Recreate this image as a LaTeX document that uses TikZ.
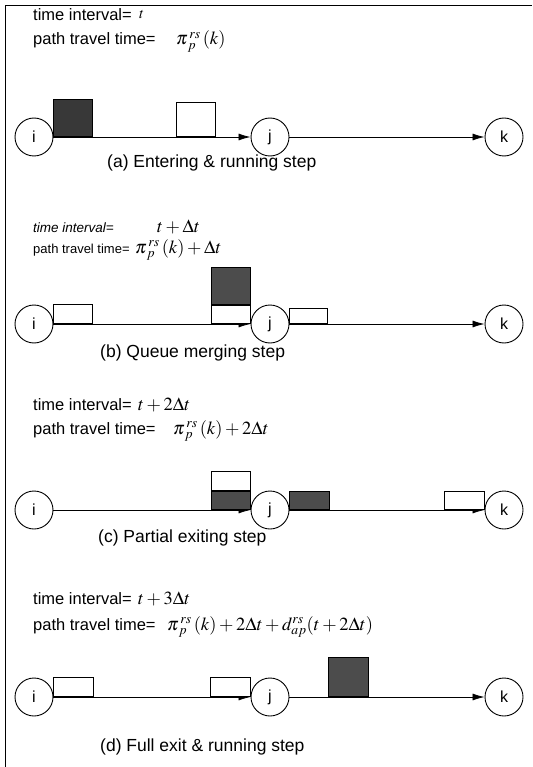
\documentclass[tikz,border=0pt]{standalone}
\usepackage{mathptmx}
\usepackage{fontspec}
\setmainfont{Liberation Sans}
\usetikzlibrary{arrows.meta}
\tikzset{
  vtx/.style={circle, draw, line width=0.9pt, minimum size=38pt, inner sep=0pt,
              font=\fontsize{16}{16}\selectfont},
  link/.style={line width=0.8pt, -{Latex[length=12pt,width=7pt]}},
  wbox/.style={draw, fill=white, line width=0.8pt, inner sep=0pt},
  dbox/.style={draw, fill=black!70, line width=0.8pt, inner sep=0pt},
  lbl/.style={anchor=base west, inner sep=0pt, font=\fontsize{16.5}{18}\selectfont},
  slbl/.style={anchor=base west, inner sep=0pt, font=\fontsize{13}{15}\selectfont},
  captext/.style={anchor=base west, inner sep=0pt, font=\fontsize{17.5}{19}\selectfont},
  mth/.style={anchor=base west, inner sep=0pt, font=\fontsize{18.5}{20}\selectfont},
  smth/.style={anchor=base west, inner sep=0pt, font=\fontsize{15}{16}\selectfont}
}
\begin{document}
\begin{tikzpicture}[x=1pt, y=-1pt]
\useasboundingbox (0,0) rectangle (532,767);
% frame
\draw[line width=1pt] (5,767) -- (5,6) -- (532,6);

% ---------- (a) entering & running ----------
\node[lbl] (ta) at (33,21) {time interval=};
\node[smth] (tam) at (139,19) {$t$};
\node[lbl] (pa) at (33,45) {path travel time=};
\node[mth] (pam) at (176,45) {$\pi^{\,rs}_{\,p}\,(k)$};
\node[vtx] (i1) at (34,137) {i};
\node[vtx] (j1) at (270,137) {j};
\node[vtx] (k1) at (504,137) {k};
\draw[link] (i1) -- (j1);
\draw[link] (j1) -- (k1);
\node[dbox, fill=black!78, minimum width=39pt, minimum height=37pt, anchor=south west] (a1) at (i1.east) {};
\node[wbox, minimum width=39pt, minimum height=34pt, anchor=south west] (a2) at (176,137) {};
\node[captext] (ca) at (107,168) {(a) Entering \& running step};

% ---------- (b) queue merging ----------
\node[slbl, font=\fontsize{13.5}{15}\itshape] (tb) at (33,233) {time interval=};
\node[mth] (tbm) at (157,233) {$t+\Delta t$};
\node[slbl] (pb) at (33,253) {path travel time=};
\node[mth] (pbm) at (135,253) {$\pi^{\,rs}_{\,p}\,(k)+\Delta t$};
\node[vtx] (i2) at (34,324) {i};
\node[vtx] (j2) at (270,324) {j};
\node[vtx] (k2) at (504,324) {k};
\draw[link] (i2) -- (j2);
\draw[link] (j2) -- (k2);
\node[wbox, minimum width=39pt, minimum height=19pt, anchor=south west] (b1) at (i2.east) {};
\node[wbox, minimum width=39pt, minimum height=18pt, anchor=south east] (b2) at (j2.west) {};
\node[dbox, minimum width=39pt, minimum height=37pt, anchor=south] (b3) at (b2.north) {};
\node[wbox, minimum width=38pt, minimum height=15pt, anchor=south west] (b4) at (j2.east) {};
\node[captext] (cb) at (100,357) {(b) Queue merging step};

% ---------- (c) partial exiting ----------
\node[lbl] (tc) at (33,410) {time interval=};
\node[mth] (tcm) at (138,410) {$t+2\Delta t$};
\node[lbl] (pc) at (33,434) {path travel time=};
\node[mth] (pcm) at (173,434) {$\pi^{\,rs}_{\,p}\,(k)+2\Delta t$};
\node[vtx] (i3) at (34,510) {i};
\node[vtx] (j3) at (270,510) {j};
\node[vtx] (k3) at (504,510) {k};
\draw[link] (i3) -- (j3);
\draw[link] (j3) -- (k3);
\node[dbox, minimum width=39pt, minimum height=18pt, anchor=south east] (c1) at (j3.west) {};
\node[wbox, minimum width=39pt, minimum height=19pt, anchor=south] (c2) at (c1.north) {};
\node[dbox, minimum width=40pt, minimum height=18pt, anchor=south west] (c3) at (j3.east) {};
\node[wbox, minimum width=40pt, minimum height=18pt, anchor=south east] (c4) at (k3.west) {};
\node[captext] (cc) at (98,542) {(c) Partial exiting step};

% ---------- (d) full exit & running ----------
\node[lbl] (td) at (33,604) {time interval=};
\node[mth] (tdm) at (138,604) {$t+3\Delta t$};
\node[lbl] (pd) at (33,630) {path travel time=};
\node[mth] (pdm) at (167,630) {$\pi^{\,rs}_{\,p}\,(k)+2\Delta t+d^{rs}_{ap}(t+2\Delta t)$};
\node[vtx] (i4) at (34,697) {i};
\node[vtx] (j4) at (270,697) {j};
\node[vtx] (k4) at (504,697) {k};
\draw[link] (i4) -- (j4);
\draw[link] (j4) -- (k4);
\node[wbox, minimum width=40pt, minimum height=19pt, anchor=south west] (d1) at (i4.east) {};
\node[wbox, minimum width=40pt, minimum height=19pt, anchor=south east] (d2) at (j4.west) {};
\node[dbox, minimum width=40pt, minimum height=39pt, anchor=south west] (d3) at (328,697) {};
\node[captext] (cd) at (100,751) {(d) Full exit \& running step};
\end{tikzpicture}
\end{document}
